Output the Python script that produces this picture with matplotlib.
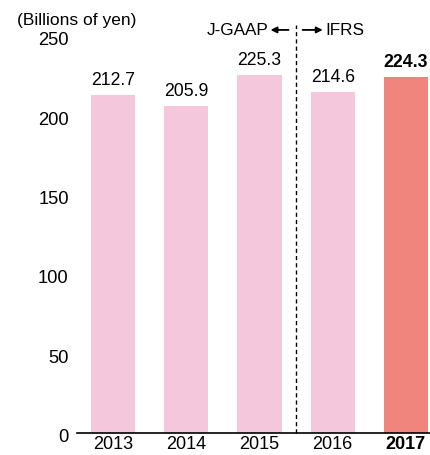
import matplotlib
matplotlib.use("Agg")
import matplotlib.pyplot as plt
from matplotlib.transforms import ScaledTranslation

plt.rcParams['font.family'] = ['Liberation Sans', 'DejaVu Sans']

years = ["2013", "2014", "2015", "2016", "2017"]
revenue = [212.7, 205.9, 225.3, 214.6, 224.3]
yticks = [0, 50, 100, 150, 200, 250]

pink = "#F5C7DC"
salmon = "#F0857D"
colors = [pink, pink, pink, pink, salmon]

fig = plt.figure(figsize=(4.30, 4.56), dpi=100)
ax = fig.add_axes([77 / 430, 22.4 / 456, 353 / 430, 396.8 / 456])

x = list(range(len(years)))
ax.bar(x, revenue, width=0.603, color=colors, zorder=2)

for i, v in enumerate(revenue):
    bold = i == len(revenue) - 1
    ax.text(i, v + 4.3, f"{v:.1f}", ha="center", va="bottom", fontsize=12.7,
            fontweight="bold" if bold else "normal", color="black")

ax.set_xlim(-0.493, 4.329)
ax.set_ylim(0, 250)
ax.set_yticks(yticks)
ax.set_yticklabels([str(t) for t in yticks], fontsize=13.2)
ax.set_xticks(x)
ax.set_xticklabels(years, fontsize=13)
for lbl in ax.get_xticklabels()[-1:]:
    lbl.set_fontweight("bold")
ax.tick_params(axis="both", length=0)
ax.tick_params(axis="y", pad=6)
ax.tick_params(axis="x", pad=2)

# nudge the y tick labels slightly downward
shift = ScaledTranslation(0, -2 / 100, fig.dpi_scale_trans)
for lbl in ax.get_yticklabels():
    lbl.set_transform(lbl.get_transform() + shift)

for s in ["top", "right", "left"]:
    ax.spines[s].set_visible(False)
ax.spines["bottom"].set_linewidth(1.2)

# Accounting standard change between 2015 and 2016
ax.plot([2.5, 2.5], [0, 256.5], color="black", lw=1.0, ls=(0, (3, 2.2)),
        clip_on=False, zorder=3)
arrow_y = 253.7
ax.annotate("", xy=(2.151, arrow_y), xytext=(2.397, arrow_y),
            arrowprops=dict(arrowstyle="-|>", color="black", lw=1.3,
                            mutation_scale=9, shrinkA=0, shrinkB=0),
            annotation_clip=False)
ax.annotate("", xy=(2.863, arrow_y), xytext=(2.589, arrow_y),
            arrowprops=dict(arrowstyle="-|>", color="black", lw=1.3,
                            mutation_scale=9, shrinkA=0, shrinkB=0),
            annotation_clip=False)
ax.text(2.123, arrow_y, "J-GAAP", ha="right", va="center", fontsize=12.3)
ax.text(2.904, arrow_y, "IFRS", ha="left", va="center", fontsize=12.3)

fig.text(17 / 430, 1 - 20 / 456, "(Billions of yen)", ha="left", va="center",
         fontsize=12.5)

fig.savefig("out.png", dpi=100)
